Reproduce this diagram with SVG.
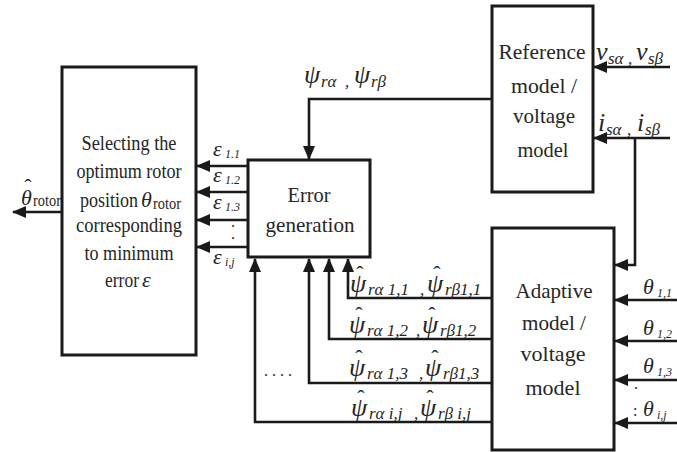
<svg xmlns="http://www.w3.org/2000/svg" width="677" height="452" viewBox="0 0 677 452">
  <style>
    .box { fill: #fff; stroke: #1a1a1a; stroke-width: 3; }
    .lbl { font-family: "Liberation Serif", "Times New Roman", serif; font-size: 22px; fill: #262626; text-anchor: middle; }
    .m { font-family: "Liberation Serif", "Times New Roman", serif; font-style: italic; font-size: 22px; fill: #262626; }
    .psi { font-family: "Liberation Serif", "Times New Roman", serif; font-style: italic; font-size: 26px; fill: #262626; }
    .s { font-family: "Liberation Serif", "Times New Roman", serif; font-style: italic; font-size: 17px; fill: #262626; }
    .ss { font-family: "Liberation Serif", "Times New Roman", serif; font-style: italic; font-size: 12px; fill: #262626; }
    .r { font-family: "Liberation Serif", "Times New Roman", serif; font-size: 16px; fill: #262626; }
    .hat { font-family: "Liberation Serif", "Times New Roman", serif; font-size: 22px; fill: #262626; text-anchor: middle; }
    .wire { fill: none; stroke: #1a1a1a; stroke-width: 2.6; marker-end: url(#arrow); }
  </style>
  <defs>
    <marker id="arrow" markerUnits="userSpaceOnUse" markerWidth="14" markerHeight="12" refX="13" refY="6" orient="auto">
      <path d="M0,0 L14,6 L0,12 z" fill="#1a1a1a"/>
    </marker>
  </defs>

  <rect width="677" height="452" fill="#fff"/>

  <!-- connectors -->
  <g id="connectors">
    <path class="wire" d="M62,212 H13"/>
    <path class="wire" d="M248,166 H197"/>
    <path class="wire" d="M248,192 H197"/>
    <path class="wire" d="M248,220 H197"/>
    <path class="wire" d="M248,247 H197"/>
    <path class="wire" d="M492,99 H309 V159"/>
    <path class="wire" d="M670,67 H594"/>
    <path class="wire" d="M670,138 H594"/>
    <path class="wire" d="M635,138 V265 H615"/>
    <path class="wire" d="M677,300 H615"/>
    <path class="wire" d="M677,341 H615"/>
    <path class="wire" d="M677,380 H615"/>
    <path class="wire" d="M677,423 H615"/>
    <path class="wire" d="M492,298 H348 V259"/>
    <path class="wire" d="M492,339 H329 V259"/>
    <path class="wire" d="M492,383 H309 V259"/>
    <path class="wire" d="M492,422 H255 V259"/>
  </g>

  <!-- selector block -->
  <g id="selector">
    <rect class="box" x="62" y="67" width="134" height="288"/>
    <text class="lbl" x="129" y="150" textLength="95" lengthAdjust="spacingAndGlyphs">Selecting the</text>
    <text class="lbl" x="129" y="178" textLength="105" lengthAdjust="spacingAndGlyphs">optimum rotor</text>
    <text class="lbl" x="109" y="207" textLength="58" lengthAdjust="spacingAndGlyphs">position</text>
    <text class="m" x="141" y="207">θ</text>
    <text class="r" x="153" y="209" textLength="28" lengthAdjust="spacingAndGlyphs">rotor</text>
    <text class="lbl" x="129" y="232" textLength="106" lengthAdjust="spacingAndGlyphs">corresponding</text>
    <text class="lbl" x="129" y="260" textLength="89" lengthAdjust="spacingAndGlyphs">to minimum</text>
    <text class="lbl" x="122" y="287" textLength="34" lengthAdjust="spacingAndGlyphs">error</text>
    <text class="m" x="142" y="287">ε</text>
  </g>

  <!-- estimated rotor position output label -->
  <g id="output-label">
    <text class="hat" x="28" y="194">ˆ</text>
    <text class="m" x="21" y="205">θ</text>
    <text class="r" x="33" y="206" textLength="28" lengthAdjust="spacingAndGlyphs">rotor</text>
  </g>

  <!-- error labels -->
  <g id="error-labels">
    <text class="m" x="213" y="156" font-size="18">ε</text><text class="ss" x="225" y="158">1.1</text>
    <text class="m" x="213" y="182" font-size="18">ε</text><text class="ss" x="225" y="184">1.2</text>
    <text class="m" x="213" y="209" font-size="18">ε</text><text class="ss" x="225" y="211">1.3</text>
    <text class="r" x="231" y="227">.</text>
    <text class="r" x="231" y="239">.</text>
    <text class="m" x="213" y="264" font-size="18">ε</text><text class="ss" x="225" y="266">i,j</text>
  </g>

  <!-- error generation block -->
  <g id="error-generation">
    <rect class="box" x="248" y="160" width="122" height="97"/>
    <text class="lbl" x="309" y="202" textLength="43" lengthAdjust="spacingAndGlyphs">Error</text>
    <text class="lbl" x="310" y="232" textLength="89" lengthAdjust="spacingAndGlyphs">generation</text>
  </g>

  <!-- reference flux label -->
  <g id="flux-ref-label">
    <text class="psi" x="304" y="83">ψ</text><text class="s" x="321" y="87">rα</text>
    <text class="s" x="345" y="87">,</text>
    <text class="psi" x="354" y="83">ψ</text><text class="s" x="371" y="87">rβ</text>
  </g>

  <!-- reference model block -->
  <g id="reference-model">
    <rect class="box" x="492" y="6" width="101" height="186"/>
    <text class="lbl" x="542" y="59" textLength="87" lengthAdjust="spacingAndGlyphs">Reference</text>
    <text class="lbl" x="544" y="93" textLength="66" lengthAdjust="spacingAndGlyphs">model /</text>
    <text class="lbl" x="544" y="123" textLength="62" lengthAdjust="spacingAndGlyphs">voltage</text>
    <text class="lbl" x="543" y="157" textLength="51" lengthAdjust="spacingAndGlyphs">model</text>
  </g>

  <!-- stator inputs -->
  <g id="stator-labels">
    <text class="psi" x="596" y="60">v</text><text class="s" x="608" y="64">sα</text>
    <text class="s" x="628" y="64">,</text>
    <text class="psi" x="636" y="60">v</text><text class="s" x="648" y="64">sβ</text>
    <text class="psi" x="598" y="131">i</text><text class="s" x="606" y="135">sα</text>
    <text class="s" x="627" y="135">,</text>
    <text class="psi" x="637" y="131">i</text><text class="s" x="645" y="135">sβ</text>
  </g>

  <!-- adaptive model block -->
  <g id="adaptive-model">
    <rect class="box" x="492" y="228" width="122" height="222"/>
    <text class="lbl" x="554" y="298" textLength="77" lengthAdjust="spacingAndGlyphs">Adaptive</text>
    <text class="lbl" x="554" y="330" textLength="64" lengthAdjust="spacingAndGlyphs">model /</text>
    <text class="lbl" x="553" y="361" textLength="65" lengthAdjust="spacingAndGlyphs">voltage</text>
    <text class="lbl" x="553" y="395" textLength="55" lengthAdjust="spacingAndGlyphs">model</text>
  </g>

  <!-- angle inputs -->
  <g id="angle-labels">
    <text class="m" x="643" y="294">θ</text><text class="ss" x="657" y="297">1,1</text>
    <text class="m" x="643" y="335">θ</text><text class="ss" x="657" y="338">1,2</text>
    <text class="m" x="643" y="373">θ</text><text class="ss" x="657" y="376">1,3</text>
    <text class="r" x="634" y="389">.</text>
    <text class="r" x="633" y="416">:</text>
    <text class="m" x="643" y="416">θ</text><text class="ss" x="657" y="419">i,j</text>
  </g>

  <!-- estimated flux labels -->
  <g id="flux-est-labels">
    <text class="hat" x="360" y="281">ˆ</text>
    <text class="psi" x="350" y="292">ψ</text><text class="s" x="368" y="295">rα 1,1</text>
    <text class="s" x="420" y="295">,</text>
    <text class="hat" x="437" y="281">ˆ</text>
    <text class="psi" x="427" y="292">ψ</text><text class="s" x="445" y="295">rβ1,1</text>

    <text class="hat" x="359" y="322">ˆ</text>
    <text class="psi" x="349" y="333">ψ</text><text class="s" x="367" y="336">rα 1,2</text>
    <text class="s" x="416" y="336">,</text>
    <text class="hat" x="432" y="322">ˆ</text>
    <text class="psi" x="422" y="333">ψ</text><text class="s" x="440" y="336">rβ1,2</text>

    <text class="hat" x="359" y="365">ˆ</text>
    <text class="psi" x="349" y="376">ψ</text><text class="s" x="367" y="379">rα 1,3</text>
    <text class="s" x="419" y="379">,</text>
    <text class="hat" x="435" y="365">ˆ</text>
    <text class="psi" x="425" y="376">ψ</text><text class="s" x="443" y="379">rβ1,3</text>

    <text class="hat" x="361" y="405">ˆ</text>
    <text class="psi" x="351" y="416">ψ</text><text class="s" x="369" y="419">rα i,j</text>
    <text class="s" x="414" y="419">,</text>
    <text class="hat" x="430" y="405">ˆ</text>
    <text class="psi" x="420" y="416">ψ</text><text class="s" x="438" y="419">rβ i,j</text>

    <text class="r" x="264" y="376">. . . .</text>
  </g>
</svg>
